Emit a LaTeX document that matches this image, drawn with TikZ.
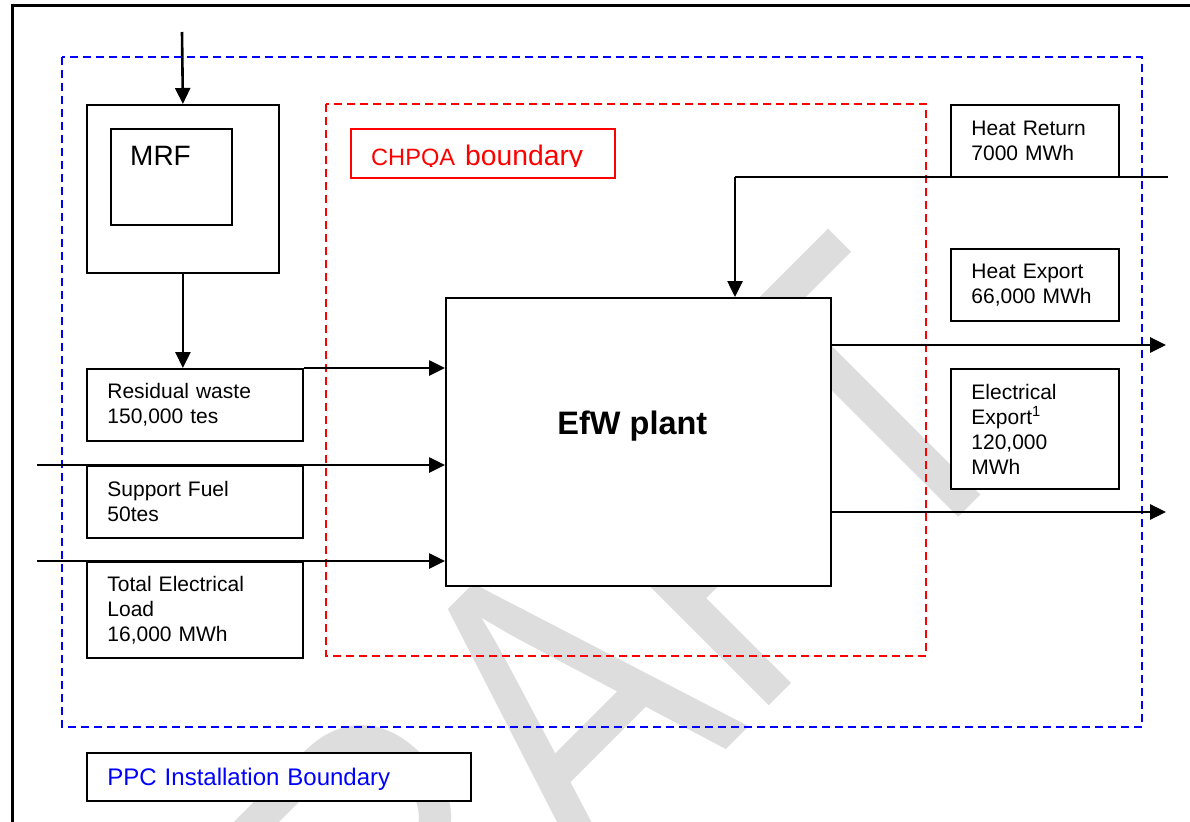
\documentclass[tikz,border=0pt]{standalone}
\usepackage{fontspec}
\setmainfont{Liberation Sans}
\usepackage{graphicx}
\usetikzlibrary{arrows.meta}

\definecolor{wmgray}{RGB}{221,221,221}
\newcommand{\bodytext}{\fontsize{21}{25}\selectfont}

\tikzset{
  plainbox/.style={draw, fill=white, line width=1.8pt, inner sep=0pt, anchor=north west},
  leftbox/.style={plainbox, font=\bodytext, align=left, inner xsep=20.5pt,
    minimum width=216, text width=175pt},
  rightbox/.style={plainbox, font=\bodytext, align=left, inner xsep=20.5pt,
    minimum width=168, text width=127pt},
  boundary/.style={line width=1.4pt, dash pattern=on 8pt off 5pt},
  flow/.style={line width=2.6pt, -{Triangle[length=16pt,width=15pt]}},
  plain flow/.style={line width=2.2pt}
}

\begin{document}
\begin{tikzpicture}[x=1pt, y=-1pt]
  % Fix the page size
  \useasboundingbox (0,0) rectangle (1190,821);

  % Watermark behind the diagram
  \node[text=wmgray, rotate=45, inner sep=0pt, text depth=0pt,
    font=\fontsize{430}{430}\selectfont] (draftmark) at (538,728)
    {\scalebox{0.79}[1]{DRAFT}};

  % Outer frame
  \draw[line width=3pt] (12,830) -- (12,6) -- (1195,6);

  % Boundaries
  \draw[boundary, blue] (62,57) rectangle (1142,727);
  \draw[boundary, red] (326,104) rectangle (926,656);

  % MRF
  \node[plainbox, minimum width=192, minimum height=168] (mrf) at (86,104) {};
  \node[plainbox, minimum width=121, minimum height=96] (mrfinner) at (110,128) {};
  \node[anchor=west, inner sep=0pt, font=\fontsize{28}{28}\selectfont] (mrflabel) at (130,155.5) {MRF};

  % Inputs
  \node[leftbox, minimum height=72] (residual) at (86,368) {Residual waste\\150,000 tes};
  \node[leftbox, minimum height=72] (support) at (86,465) {Support Fuel\\50tes};
  \node[leftbox, minimum height=96] (load) at (86,561) {Total Electrical\\Load\\16,000 MWh};

  % EfW plant
  \node[plainbox, minimum width=385, minimum height=288] (efw) at (445,297) {};
  \node[font=\bfseries\fontsize{32.5}{33}\selectfont] (efwlabel) at ([xshift=-6pt,yshift=16pt]efw.center) {EfW plant};

  % Outputs
  \node[rightbox, minimum height=72] (heatret) at (950,104) {Heat Return\\7000 MWh};
  \node[rightbox, minimum height=72] (heatexp) at (950,248) {Heat Export\\66,000 MWh};
  \node[rightbox, minimum height=120] (elecexp) at (950,368) {Electrical\\Export\textsuperscript{1}\\120,000\\MWh};

  % Boundary labels
  \node[plainbox, draw=red, minimum width=264, minimum height=49] (chpqa) at (350,128) {};
  \begin{scope}
    \clip (350,128) rectangle (614,167);
    \node[anchor=base west, inner sep=0pt, text=red] (chpqalabel) at (371,166)
      {{\fontsize{23.6}{24}\selectfont CHPQA}\hspace{10pt}{\fontsize{28.3}{28}\selectfont boundary}};
  \end{scope}
  \node[plainbox, minimum width=384, minimum height=48, text=blue, align=left,
    inner xsep=20.5pt, text width=343pt, text depth=0pt,
    font=\fontsize{24}{24}\selectfont] (ppc) at (86,752) {PPC Installation Boundary};

  % Flows in
  \coordinate (feedIn) at (182,32);
  \coordinate (fuelIn) at (37,465);
  \coordinate (loadIn) at (37,561);
  \draw[flow] (feedIn) -- (mrf.north);
  \draw[flow] (mrf.south) -- (mrf.south |- residual.north);
  \draw[flow] (residual.north east) -- (residual.north east -| efw.west);
  \draw[flow] (fuelIn) -- (fuelIn -| efw.west);
  \draw[flow] (loadIn) -- (loadIn -| efw.west);

  % Heat return
  \coordinate (returnIn) at (1168,177);
  \coordinate (returnBend) at (735,177);
  \draw[plain flow] (returnIn) -- (returnBend);
  \draw[flow] (returnBend) -- (returnBend |- efw.north);

  % Flows out
  \coordinate (heatOut) at (1166,345);
  \coordinate (powerOut) at (1166,512);
  \draw[flow] (efw.east |- heatOut) -- (heatOut);
  \draw[flow] (efw.east |- powerOut) -- (powerOut);
\end{tikzpicture}
\end{document}
